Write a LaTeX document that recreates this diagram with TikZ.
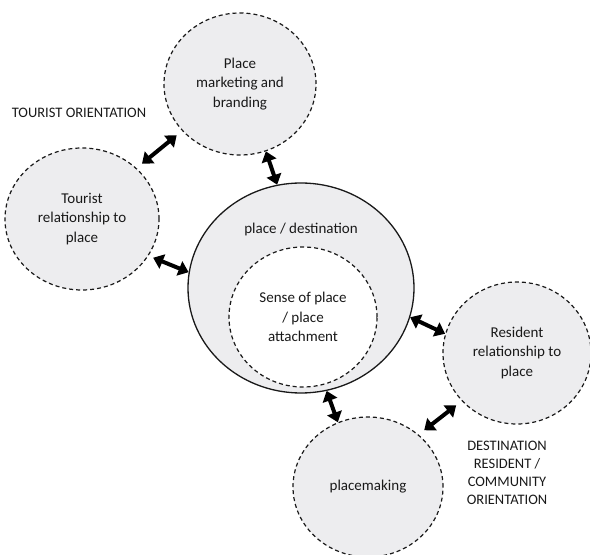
\documentclass[tikz,border=0pt]{standalone}
\usepackage{fontspec}
\setmainfont{Carlito}
\usetikzlibrary{shapes.geometric,arrows.meta}
\definecolor{bubblegray}{RGB}{237,237,239}
\definecolor{ink}{RGB}{25,25,25}

\begin{document}
\begin{tikzpicture}[x=1pt,y=1pt,
    font=\fontsize{15}{19.5}\selectfont, text=ink,
    bubble/.style={ellipse, draw=ink, dash pattern=on 4pt off 3pt, line width=1.2pt,
        fill=bubblegray, inner sep=0pt, align=center},
    twoway/.style={{Triangle[length=10pt,width=15pt]}-{Triangle[length=10pt,width=15pt]},
        line width=4pt, black},
    gap/.style={shorten <=7pt, shorten >=7pt},
    orient/.style={font=\fontsize{14.5}{18}\selectfont, align=center}]
    \useasboundingbox (0,0) rectangle (590,555);

    % outer bubbles
    \node[bubble, minimum width=152pt, minimum height=142pt] (mkt) at (240,471) {Place\\marketing and\\branding};
    \node[bubble, minimum width=154pt, minimum height=142pt] (tour) at (82,336) {Tourist\\relationship to\\place};
    \node[bubble, minimum width=148pt, minimum height=142pt] (res) at (517,202) {Resident\\relationship to\\place};
    \node[bubble, minimum width=150pt, minimum height=140pt] (pm) at (368,68) {placemaking};

    % place / destination with sense of place inside
    \node[ellipse, draw=ink, line width=1.3pt, fill=bubblegray, inner sep=0pt,
        minimum width=226pt, minimum height=210pt] (dest) at (301,267) {};
    \node (destlbl) at (301,325) {place / destination};
    \node[bubble, fill=white, minimum width=148pt, minimum height=140pt] (sense) at (303,238) {Sense of place\\/ place\\attachment};

    \node[orient] (tourorient) at (79,442) {TOURIST ORIENTATION};
    \node[orient] (destorient) at (507,82) {DESTINATION\\RESIDENT /\\COMMUNITY\\ORIENTATION};

    % arrows
    \draw[twoway, gap] (tour.43) -- (mkt.219);
    \draw[twoway] (mkt.291) -- (dest.103);
    \draw[twoway, shorten <=5pt] (tour.331) -- (dest.172);
    \draw[twoway] (dest.345) -- (res.165);
    \draw[twoway] (dest.284) -- (pm.115);
    \draw[twoway, gap] (pm.46) -- (res.221);
\end{tikzpicture}
\end{document}
